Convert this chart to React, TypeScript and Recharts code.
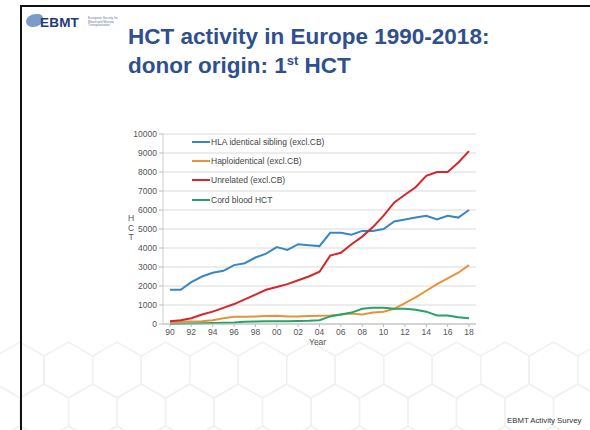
import React from 'react';
import { LineChart, Line, XAxis, YAxis, CartesianGrid } from 'recharts';

const years = ['90', '91', '92', '93', '94', '95', '96', '97', '98', '99', '00', '01', '02', '03', '04', '05', '06', '07', '08', '09', '10', '11', '12', '13', '14', '15', '16', '17', '18'];

const sibling = [1800, 1800, 2200, 2500, 2700, 2800, 3100, 3200, 3500, 3700, 4050, 3900, 4200, 4150, 4100, 4800, 4800, 4700, 4900, 4900, 5000, 5400, 5500, 5600, 5700, 5500, 5700, 5600, 6000];
const haplo = [100, 120, 130, 150, 200, 300, 380, 380, 400, 420, 430, 400, 400, 420, 430, 450, 500, 550, 500, 600, 650, 800, 1100, 1400, 1750, 2100, 2400, 2700, 3100];
const unrelated = [150, 200, 300, 500, 650, 850, 1050, 1300, 1550, 1800, 1950, 2100, 2300, 2500, 2750, 3600, 3750, 4200, 4600, 5100, 5700, 6400, 6800, 7200, 7800, 8000, 8000, 8500, 9100];
const cordBlood = [0, 10, 30, 40, 50, 60, 80, 120, 130, 140, 150, 150, 160, 170, 200, 400, 500, 600, 800, 850, 850, 800, 800, 750, 650, 450, 450, 350, 300];

const yTicks = [0, 1000, 2000, 3000, 4000, 5000, 6000, 7000, 8000, 9000, 10000];
const xTicks = ['90', '92', '94', '96', '98', '00', '02', '04', '06', '08', '10', '12', '14', '16', '18'];

const seriesInfo = [
  { key: 'sibling', name: 'HLA identical sibling (excl.CB)', color: '#3a86c4' },
  { key: 'haplo', name: 'Haploidentical (excl.CB)', color: '#e8923a' },
  { key: 'unrelated', name: 'Unrelated (excl.CB)', color: '#d4262c' },
  { key: 'cord', name: 'Cord blood HCT', color: '#27a36a' },
];

const chartData = years.map((y, i) => ({
  year: y,
  sibling: sibling[i],
  haplo: haplo[i],
  unrelated: unrelated[i],
  cord: cordBlood[i],
}));

const font = '"Liberation Sans", Arial, sans-serif';

// faint hexagon backdrop at the bottom of the slide
function Hexes() {
  const paths: string[] = [];
  const r = 28;
  const w = r * Math.sqrt(3);
  for (let row = 0; row < 3; row++) {
    for (let col = -1; col < 13; col++) {
      const cx = 20 + col * w + (row % 2 ? w / 2 : 0);
      const cy = 370 + row * r * 1.5;
      const pts = [];
      for (let k = 0; k < 6; k++) {
        const a = (Math.PI / 3) * k + Math.PI / 6;
        pts.push(`${(cx + r * Math.cos(a)).toFixed(1)},${(cy + r * Math.sin(a)).toFixed(1)}`);
      }
      paths.push('M' + pts.join('L') + 'Z');
    }
  }
  return (
    <svg width={590} height={430} style={{ position: 'absolute', left: 0, top: 0 }}>
      {paths.map((d, i) => (
        <path key={i} d={d} fill="none" stroke="#f1f1f1" strokeWidth={1.5} />
      ))}
    </svg>
  );
}

function LegendBox() {
  return (
    <div style={{ position: 'absolute', left: 192, top: 132, fontFamily: font, fontSize: 8.5, color: '#444' }}>
      {seriesInfo.map((s) => (
        <div key={s.key} style={{ display: 'flex', alignItems: 'center', height: 19.3 }}>
          <div style={{ width: 18, height: 2, background: s.color, marginRight: 1 }} />
          <span>{s.name}</span>
        </div>
      ))}
    </div>
  );
}

export default function App() {
  return (
    <div style={{ position: 'absolute', left: 0, top: 0, width: 590, height: 430, background: '#fff', overflow: 'hidden', fontFamily: font }}>
      <Hexes />
      <div style={{ position: 'absolute', left: 20, top: 5, width: 568, height: 440, borderLeft: '2px solid #111', borderTop: '2px solid #111', borderRight: '1px solid #888' }} />
      <div style={{ position: 'absolute', left: 26, top: 14, width: 17, height: 13, borderRadius: '60% 30% 60% 40%', background: '#4f79b8', opacity: 0.75 }} />
      <div style={{ position: 'absolute', left: 40, top: 15, fontSize: 13.5, fontWeight: 'bold', color: '#1f3a78', letterSpacing: 0.2 }}>EBMT</div>
      <div style={{ position: 'absolute', left: 88, top: 17, fontSize: 3.2, lineHeight: '3.6px', color: '#6a7a99', width: 30 }}>
        European Society for Blood and Marrow Transplantation
      </div>
      <div style={{ position: 'absolute', left: 128, top: 22, fontSize: 22.5, fontWeight: 'bold', color: '#2f4f8f', lineHeight: '29px' }}>
        HCT activity in Europe 1990-2018:
        <br />
        donor origin: 1<sup style={{ fontSize: 13, verticalAlign: 'top', lineHeight: '20px' }}>st</sup> HCT
      </div>
      <div style={{ position: 'absolute', left: 127, top: 214, fontSize: 8.5, color: '#555', lineHeight: '9.5px', textAlign: 'center', width: 8 }}>
        H<br />C<br />T
      </div>
      <div style={{ position: 'absolute', left: 100, top: 124 }}>
        <LineChart width={390} height={240} data={chartData} margin={{ top: 10, right: 14, bottom: 20, left: 0 }}>
          <CartesianGrid vertical={false} stroke="#d9d9d9" strokeWidth={1} />
          <XAxis
            dataKey="year"
            ticks={xTicks}
            interval={0}
            padding={{ left: 7, right: 7 }}
            tick={{ fontSize: 8.5, fill: '#555', fontFamily: font }}
            tickLine={{ stroke: '#bbb' }}
            tickSize={3}
            axisLine={{ stroke: '#bbb' }}
            height={20}
          />
          <YAxis
            domain={[0, 10000]}
            ticks={yTicks}
            interval={0}
            width={63}
            tick={{ fontSize: 8.5, fill: '#555', fontFamily: font }}
            tickLine={{ stroke: '#bbb' }}
            tickSize={4}
            axisLine={{ stroke: '#ccc' }}
          />
          {seriesInfo.map((s) => (
            <Line
              key={s.key}
              type="linear"
              dataKey={s.key}
              name={s.name}
              stroke={s.color}
              strokeWidth={2}
              dot={false}
              isAnimationActive={false}
            />
          ))}
        </LineChart>
      </div>
      <div style={{ position: 'absolute', left: 309, top: 337, fontSize: 8.5, color: '#555' }}>Year</div>
      <LegendBox />
      <div style={{ position: 'absolute', left: 507, top: 416, fontSize: 7.8, color: '#333' }}>EBMT Activity Survey</div>
    </div>
  );
}
